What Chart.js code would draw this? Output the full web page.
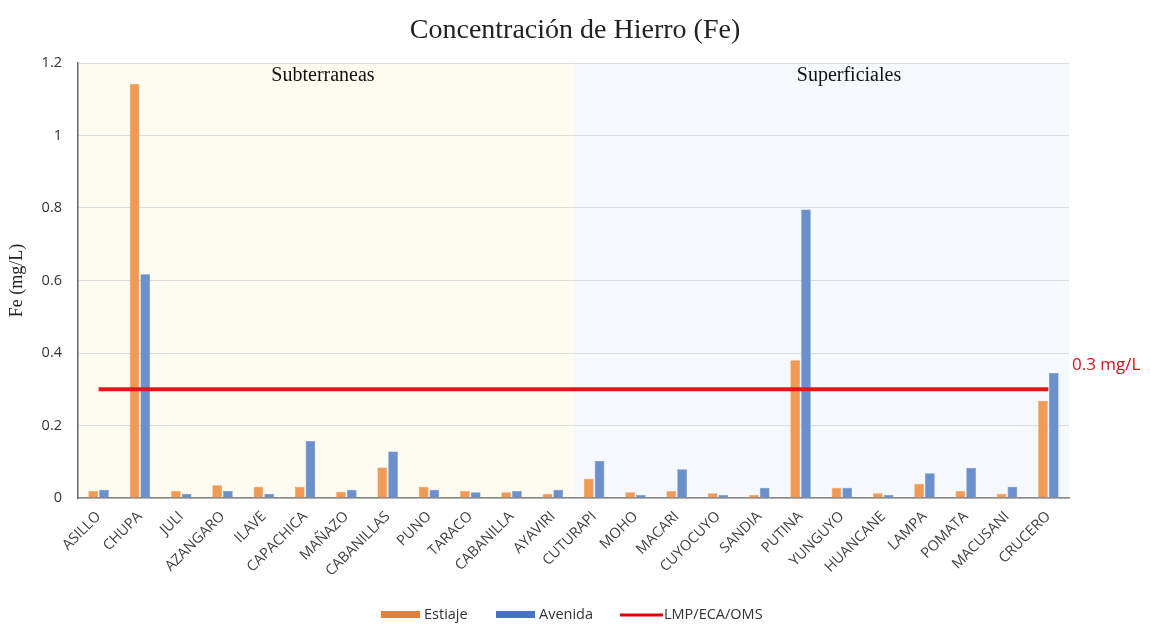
<!DOCTYPE html>
<html lang="es">
<head>
    <meta charset="UTF-8">
    <title>Concentración de Hierro (Fe)</title>
    <script src="https://cdn.jsdelivr.net/npm/chart.js"></script>
    <style>
        body { margin: 0; background: #fff; }
        #wrap { width: 1150px; height: 624px; position: relative; }
    </style>
</head>
<body>
<div id="wrap"><canvas id="chart"></canvas></div>
<script>
    // puntos de muestreo
    const labels = ['ASILLO', 'CHUPA', 'JULI', 'AZANGARO', 'ILAVE', 'CAPACHICA', 'MAÑAZO', 'CABANILLAS',
        'PUNO', 'TARACO', 'CABANILLA', 'AYAVIRI', 'CUTURAPI', 'MOHO', 'MACARI', 'CUYOCUYO', 'SANDIA',
        'PUTINA', 'YUNGUYO', 'HUANCANE', 'LAMPA', 'POMATA', 'MACUSANI', 'CRUCERO'];

    const estiaje = [0.019, 1.142, 0.019, 0.035, 0.031, 0.031, 0.017, 0.084, 0.031, 0.019, 0.016, 0.012,
        0.053, 0.016, 0.019, 0.013, 0.008, 0.380, 0.028, 0.013, 0.039, 0.019, 0.012, 0.268];

    const avenida = [0.023, 0.617, 0.012, 0.019, 0.012, 0.157, 0.023, 0.128, 0.023, 0.016, 0.019, 0.023,
        0.102, 0.008, 0.079, 0.008, 0.028, 0.796, 0.028, 0.008, 0.068, 0.083, 0.031, 0.345];

    const limite = labels.map(() => 0.3);

    const yTicks = [0, 0.2, 0.4, 0.6, 0.8, 1, 1.2];

    // zonas: subterraneas (primeros 12) y superficiales
    const zonas = [
        { name: 'Subterraneas', from: 0, to: 11, color: '#fefbf1', labelX: 323 },
        { name: 'Superficiales', from: 12, to: 23, color: '#f5f8fc', labelX: 849 }
    ];

    // leyenda dibujada a mano (barras como rectangulos, limite como linea)
    const legendItems = [
        { text: 'Estiaje', color: '#ed7d31', kind: 'box', x: 381 },
        { text: 'Avenida', color: '#4472c4', kind: 'box', x: 496 },
        { text: 'LMP/ECA/OMS', color: '#e00000', kind: 'line', x: 620 }
    ];

    const extrasPlugin = {
        id: 'extras',
        beforeDatasetsDraw(chart) {
            const { ctx, chartArea, scales } = chart;
            const x = scales.x;
            const half = (x.getPixelForValue(1) - x.getPixelForValue(0)) / 2;
            ctx.save();
            ctx.globalCompositeOperation = 'destination-over';
            zonas.forEach(z => {
                const x0 = x.getPixelForValue(z.from) - half;
                const x1 = x.getPixelForValue(z.to) + half;
                ctx.fillStyle = z.color;
                ctx.fillRect(x0, chartArea.top, x1 - x0, chartArea.bottom - chartArea.top);
            });
            ctx.restore();
        },
        afterDraw(chart) {
            const { ctx, chartArea, scales } = chart;
            ctx.save();
            // titulo
            ctx.fillStyle = '#222';
            ctx.font = '28px "Liberation Serif", serif';
            ctx.textAlign = 'center';
            ctx.textBaseline = 'middle';
            ctx.fillText('Concentración de Hierro (Fe)', 575, 31);
            // zonas
            ctx.fillStyle = '#111';
            ctx.font = '20px "Liberation Serif", serif';
            zonas.forEach(z => ctx.fillText(z.name, z.labelX, chartArea.top + 13));
            // etiqueta del limite
            ctx.fillStyle = '#d0151b';
            ctx.font = '17px "Open Sans", sans-serif';
            ctx.textAlign = 'left';
            const y = scales.y.getPixelForValue(0.3);
            ctx.fillText('0.3 mg/L', 1072, y - 24);
            // leyenda
            ctx.font = '14.5px "Open Sans", sans-serif';
            legendItems.forEach(it => {
                if (it.kind === 'box') {
                    ctx.fillStyle = it.color;
                    ctx.fillRect(it.x, 611, 39, 7);
                } else {
                    ctx.strokeStyle = it.color;
                    ctx.lineWidth = 3;
                    ctx.beginPath();
                    ctx.moveTo(it.x, 615);
                    ctx.lineTo(it.x + 43, 615);
                    ctx.stroke();
                }
                ctx.fillStyle = '#333';
                ctx.fillText(it.text, it.x + (it.kind === 'box' ? 43 : 44), 615);
            });
            ctx.restore();
        }
    };

    new Chart(document.getElementById('chart'), {
        data: {
            labels: labels,
            datasets: [
                {
                    type: 'line',
                    label: 'LMP/ECA/OMS',
                    data: limite,
                    borderColor: '#e3161b',
                    backgroundColor: '#e3161b',
                    borderWidth: 4,
                    pointRadius: 0,
                    order: 0
                },
                {
                    type: 'bar',
                    label: 'Estiaje',
                    data: estiaje,
                    backgroundColor: '#f09a56',
                    borderColor: '#ed8a45',
                    borderWidth: 0.5,
                    categoryPercentage: 0.52,
                    barPercentage: 0.9,
                    order: 1
                },
                {
                    type: 'bar',
                    label: 'Avenida',
                    data: avenida,
                    backgroundColor: '#6b90cc',
                    borderColor: '#5a80c0',
                    borderWidth: 0.5,
                    categoryPercentage: 0.52,
                    barPercentage: 0.9,
                    order: 2
                }
            ]
        },
        options: {
            responsive: true,
            maintainAspectRatio: false,
            animation: false,
            layout: { padding: { left: 0, right: 81, top: 63, bottom: 28 } },
            plugins: {
                title: { display: false },
                legend: { display: false },
                tooltip: { enabled: false }
            },
            scales: {
                x: {
                    offset: true,
                    grid: { display: false, drawTicks: false },
                    border: { color: '#888', width: 1.5 },
                    ticks: {
                        color: '#404040',
                        font: { family: '"Open Sans", sans-serif', size: 14.5 },
                        minRotation: 45,
                        maxRotation: 45,
                        autoSkip: false,
                        padding: 10
                    },
                    afterFit(scale) { scale.height = 98; }
                },
                y: {
                    min: 0,
                    max: 1.2,
                    afterBuildTicks(scale) { scale.ticks = yTicks.map(v => ({ value: v })); },
                    grid: { color: '#dcdcdc', drawTicks: false },
                    border: { color: '#666', width: 1.5 },
                    ticks: {
                        color: '#333',
                        font: { family: '"Open Sans", sans-serif', size: 14.5 },
                        padding: 16,
                        callback: v => String(v)
                    },
                    title: {
                        display: true,
                        text: 'Fe (mg/L)',
                        color: '#222',
                        font: { family: '"Liberation Serif", serif', size: 18 },
                        padding: { top: 6, bottom: 0 }
                    },
                    afterFit(scale) { scale.width = 78; }
                }
            }
        },
        plugins: [extrasPlugin]
    });
</script>
</body>
</html>
